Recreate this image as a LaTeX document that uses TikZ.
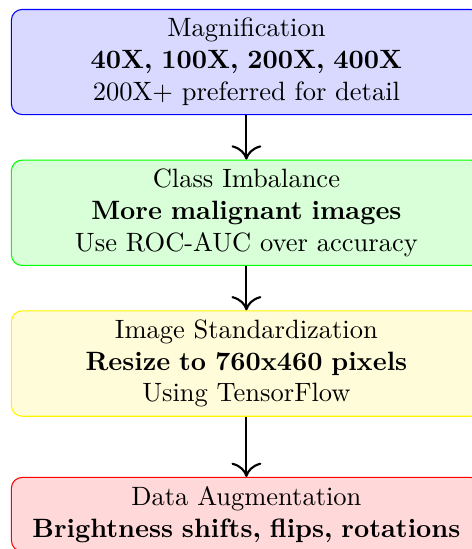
\documentclass[tikz,border=0pt]{standalone}
\usepackage{tikz}
\usetikzlibrary{positioning, arrows.meta}
\tikzset{
	block/.style={
		rectangle,
		draw,
		text width=6cm,
		text centered,
		rounded corners,
	},
	flow/.style={
		-{To[scale=1.6]},
		thick,
	},
}
\begin{document}
\begin{tikzpicture}[node distance = 2cm]
		\useasboundingbox (-93.0pt,-183.8pt) rectangle (85.1pt,23.4pt);
		% Place nodes
		\node [block, draw=blue, fill=blue!15] (mag) {Magnification\\ \textbf{40X, 100X, 200X, 400X}\\ 200X+ preferred for detail};
		\node [block, draw=green, fill=green!15, below of = mag] (imb) {Class Imbalance\\ \textbf{More malignant images}\\ Use ROC-AUC over accuracy};
		\node [block, draw=yellow, fill=yellow!15, below of = imb] (std) {Image Standardization\\ \textbf{Resize to 760x460 pixels}\\ Using TensorFlow};
		\node [block, draw=red, fill=red!15, below of = std] (aug) {Data Augmentation\\ \textbf{Brightness shifts, flips, rotations}};
		
		\draw [flow] (mag) to (imb);
		\draw [flow] (imb) to (std);
		\draw [flow] (std) to (aug);

	\end{tikzpicture}
\end{document}
